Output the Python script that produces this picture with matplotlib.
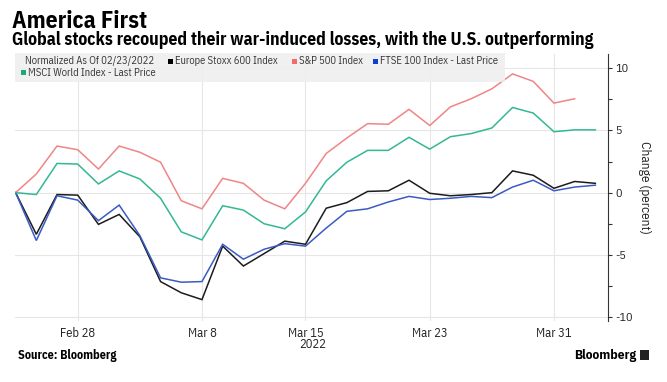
import numpy as np
import pandas as pd
import matplotlib
matplotlib.use('Agg')
import matplotlib.pyplot as plt
from matplotlib.patches import Rectangle
from matplotlib.ticker import MultipleLocator, FixedLocator
import matplotlib.transforms as mtrans

plt.rcParams['font.family'] = ['IBM Plex Sans Condensed', 'DejaVu Sans']
plt.rcParams['axes.unicode_minus'] = False

# ---- data -------------------------------------------------------------
dates = pd.bdate_range('2022-02-23', '2022-04-04')

europe = [0, -3.35, -0.15, -0.2, -2.55, -1.75, -3.55, -7.15, -8.05, -8.6,
          -4.3, -5.9, -4.9, -3.9, -4.15, -1.25, -0.8, 0.1, 0.15, 1.0,
          -0.05, -0.25, -0.15, 0.0, 1.75, 1.4, 0.35, 0.9, 0.75]
sp500 = [0, 1.5, 3.75, 3.45, 1.9, 3.75, 3.25, 2.45, -0.65, -1.3,
         1.15, 0.75, -0.6, -1.3, 0.75, 3.15, 4.4, 5.55, 5.5, 6.7,
         5.4, 6.9, 7.55, 8.35, 9.55, 8.95, 7.2, 7.55, np.nan]
ftse = [0, -3.85, -0.25, -0.6, -2.25, -1.0, -3.45, -6.85, -7.2, -7.15,
        -4.15, -5.35, -4.55, -4.1, -4.3, -2.85, -1.5, -1.3, -0.75, -0.3,
        -0.55, -0.45, -0.3, -0.4, 0.45, 1.0, 0.15, 0.45, 0.6]
msci = [0, -0.15, 2.35, 2.3, 0.7, 1.75, 1.1, -0.45, -3.15, -3.8,
        -1.05, -1.4, -2.5, -2.9, -1.55, 0.95, 2.45, 3.4, 3.4, 4.45,
        3.5, 4.5, 4.75, 5.2, 6.85, 6.4, 4.9, 5.05, 5.05]

series_names = ['Europe Stoxx 600 Index', 'S&P 500 Index',
                'FTSE 100 Index - Last Price', 'MSCI World Index - Last Price']
tick_dates = ['2022-02-28', '2022-03-08', '2022-03-15', '2022-03-23', '2022-03-31']
tick_labels = ['Feb 28', 'Mar 8', 'Mar 15', 'Mar 23', 'Mar 31']
yticks = [-10, -5, 0, 5, 10]

line_colors = ['#1c1c1c', '#f08585', '#3a5bc4', '#33b894']
square_colors = ['#000000', '#f26b6b', '#0b3fd0', '#18a97e']

# ---- figure -------------------------------------------------------------
W, H = 667, 382
fig = plt.figure(figsize=(W / 100, H / 100), dpi=100)

def fx(x):
    return x / W

def fy(y):
    return 1 - y / H

ax_l, ax_r, ax_t, ax_b = 15, 608, 54, 321
ax = fig.add_axes([fx(ax_l), fy(ax_b), fx(ax_r - ax_l), (ax_b - ax_t) / H])

x = np.arange(len(dates))
for vals, c in zip([europe, sp500, ftse, msci], line_colors):
    ax.plot(x, vals, color=c, lw=1.1, solid_joinstyle='miter', zorder=3)

ax.set_xlim(-0.03, 28.61)
ax.set_ylim(-10.32, 11.15)

tick_idx = [int(np.where(dates == pd.Timestamp(d))[0][0]) for d in tick_dates]
ax.xaxis.set_major_locator(FixedLocator(tick_idx))
ax.set_xticklabels(tick_labels)
ax.tick_params(axis='x', length=0, pad=4, labelsize=9, colors='#222222')

ax.yaxis.tick_right()
ax.yaxis.set_label_position('right')
ax.set_yticks(yticks)
ax.set_yticklabels([str(v) for v in yticks])
ax.yaxis.set_minor_locator(MultipleLocator(2.5))
ax.tick_params(axis='y', which='both', direction='out', length=3, width=0.8,
               color='#333333', pad=2, labelsize=8.7, labelcolor='#222222')
ax.set_ylabel('Change (percent)', rotation=270, fontsize=9.5, labelpad=13, color='#222222')

for s in ['top', 'left', 'bottom']:
    ax.spines[s].set_visible(False)
ax.spines['right'].set_color('#333333')
ax.spines['right'].set_linewidth(0.8)

ax.grid(True, which='major', color='#e6e6e6', lw=0.8)
ax.set_axisbelow(True)

# year label under Mar 15
trans = mtrans.blended_transform_factory(ax.transData, ax.transAxes)
ax.annotate('2022', xy=(tick_idx[2], 0), xycoords=trans, xytext=(5, -12.5),
            textcoords='offset points', ha='center', va='top', fontsize=9,
            color='#222222', annotation_clip=False)

# legend background
ax_h = ax_b - ax_t
ax_w = ax_r - ax_l
ax.add_patch(Rectangle((0, 1 - (82 - ax_t) / ax_h), (505 - ax_l) / ax_w, (82 - 53) / ax_h,
                       transform=ax.transAxes, facecolor='#efefef', alpha=0.88,
                       edgecolor='none', clip_on=False, zorder=4))

leg_fs = 7.6
fig.text(fx(25), fy(61.5), 'Normalized As Of 02/23/2022', fontsize=leg_fs, va='center', color='#333333', zorder=5)
leg_pos = [(168, 61.5), (292, 61.5), (373, 61.5), (21, 72.5)]
for (lx, ly), name, sc in zip(leg_pos, series_names, square_colors):
    fig.patches.append(Rectangle((fx(lx), fy(ly + 2.5)), fx(5), 5 / H,
                                 transform=fig.transFigure, facecolor=sc,
                                 edgecolor='none', figure=fig, zorder=5))
    fig.text(fx(lx + 7), fy(ly), name, fontsize=leg_fs, va='center', color='#333333', zorder=5)

# titles
fig.text(fx(12), fy(28), 'America First', fontsize=17, fontweight='bold',
         va='baseline', color='#000000')
fig.text(fx(12), fy(45), 'Global stocks recouped their war-induced losses, with the U.S. outperforming',
         fontsize=12.7, fontweight='bold', va='baseline', color='#000000')

# footer
fig.text(fx(18), fy(356), 'Source: Bloomberg', fontsize=8.7, fontweight='bold',
         va='center', color='#000000')
fig.text(fx(636), fy(355), 'Bloomberg', fontsize=9.7, fontweight='bold',
         va='center', ha='right', color='#000000')
fig.patches.append(Rectangle((fx(640), fy(360)), fx(9), 10 / H, transform=fig.transFigure,
                             facecolor='#222222', edgecolor='none', figure=fig))

fig.savefig('out.png', dpi=100)
